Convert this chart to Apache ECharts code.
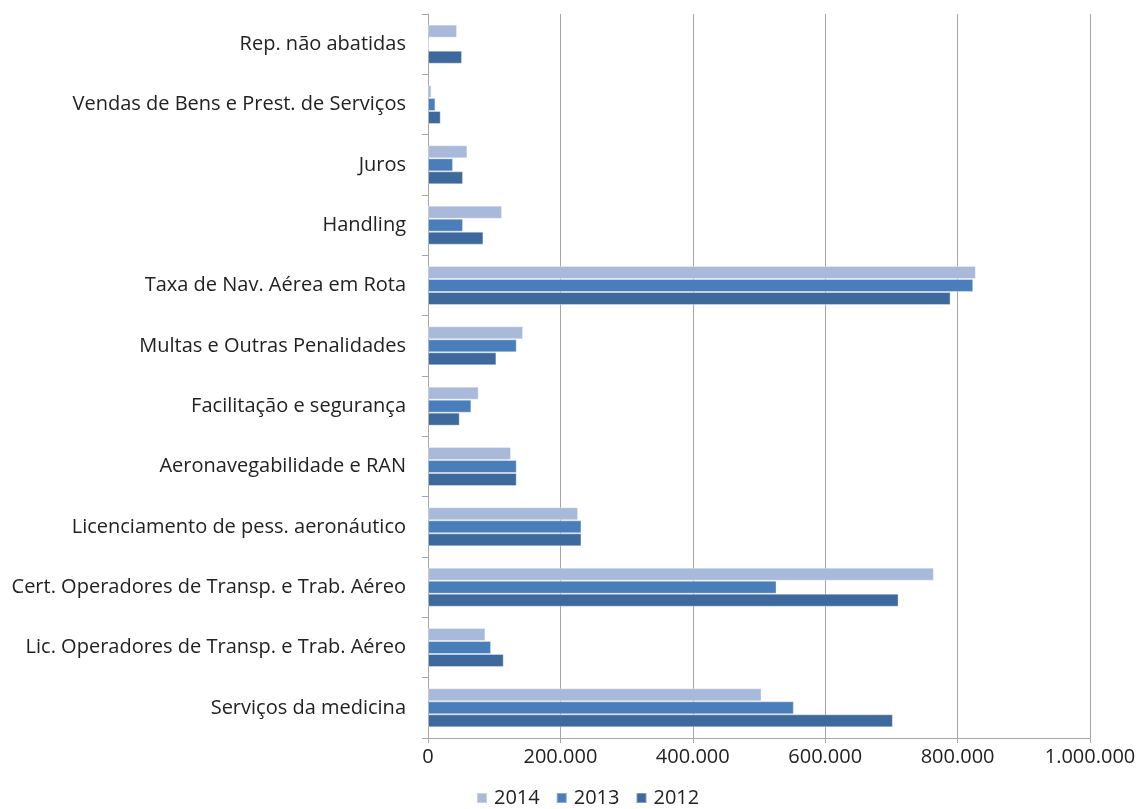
<!DOCTYPE html>
<html>
<head>
<meta charset="utf-8">
<script src="https://cdn.jsdelivr.net/npm/echarts@6/dist/echarts.min.js"></script>
<style>
  html, body { margin: 0; padding: 0; background: #fff; }
  #chart { width: 1139px; height: 809px; }
</style>
</head>
<body>
<div id="chart"></div>
<script>
// Revenue categories, listed bottom to top as drawn on the vertical axis
const categories = [
  'Serviços da medicina',
  'Lic. Operadores de Transp. e Trab. Aéreo',
  'Cert. Operadores de Transp. e Trab. Aéreo',
  'Licenciamento de pess. aeronáutico',
  'Aeronavegabilidade e RAN',
  'Facilitação e segurança',
  'Multas e Outras Penalidades',
  'Taxa de Nav. Aérea em Rota',
  'Handling',
  'Juros',
  'Vendas de Bens e Prest. de Serviços',
  'Rep. não abatidas'
];

const values2014 = [503800, 86700, 764200, 226700, 125400, 76600, 143600, 827600, 111800, 59500, 5100, 43800];
const values2013 = [552600, 95200, 526500, 231800, 134000, 65500, 134000, 823600, 52900, 37800, 11200, 1500];
const values2012 = [702200, 114400, 710800, 231800, 134000, 47900, 103300, 789400, 83700, 52900, 19200, 51400];

const xTickLabels = ['0', '200.000', '400.000', '600.000', '800.000', '1.000.000'];
const xStep = 200000;

const FONT = 'Open Sans';
const colors = { '2014': '#a8b9d9', '2013': '#4a7ebb', '2012': '#3e699d' };

const chart = echarts.init(document.getElementById('chart'), null, { renderer: 'canvas' });

function barSeries(name, data) {
  return {
    name: name,
    type: 'bar',
    data: data,
    barWidth: 13,
    barGap: '0%',
    itemStyle: { color: colors[name], borderColor: 'rgba(255,255,255,0.35)', borderWidth: 1 },
    emphasis: { disabled: true }
  };
}

chart.setOption({
  animation: false,
  textStyle: { fontFamily: FONT },
  grid: { left: 428, right: 49, top: 14, bottom: 71, containLabel: false },
  legend: {
    data: ['2014', '2013', '2012'],
    top: 788,
    left: 476,
    padding: 0,
    itemWidth: 10,
    itemHeight: 10,
    itemGap: 16,
    icon: 'rect',
    textStyle: { fontFamily: FONT, fontSize: 20, color: '#222', padding: [0, 0, 0, 2] }
  },
  xAxis: {
    type: 'value',
    min: 0,
    max: 1000000,
    interval: xStep,
    axisLine: { show: true, lineStyle: { color: '#a6a6a6', width: 1 } },
    axisTick: { show: true, length: 5, lineStyle: { color: '#a6a6a6' } },
    splitLine: { show: true, lineStyle: { color: '#a6a6a6', width: 1 } },
    axisLabel: {
      fontFamily: FONT,
      fontSize: 20,
      color: '#222',
      margin: 9,
      formatter: function (v) { return xTickLabels[Math.round(v / xStep)]; }
    }
  },
  yAxis: {
    type: 'category',
    data: categories,
    axisLine: { show: true, lineStyle: { color: '#a6a6a6', width: 1 } },
    axisTick: { show: true, length: 6, alignWithLabel: false, lineStyle: { color: '#a6a6a6' } },
    axisLabel: { fontFamily: FONT, fontSize: 20, color: '#222', margin: 22 }
  },
  series: [
    barSeries('2014', values2014),
    barSeries('2013', values2013),
    barSeries('2012', values2012)
  ]
});
</script>
</body>
</html>
